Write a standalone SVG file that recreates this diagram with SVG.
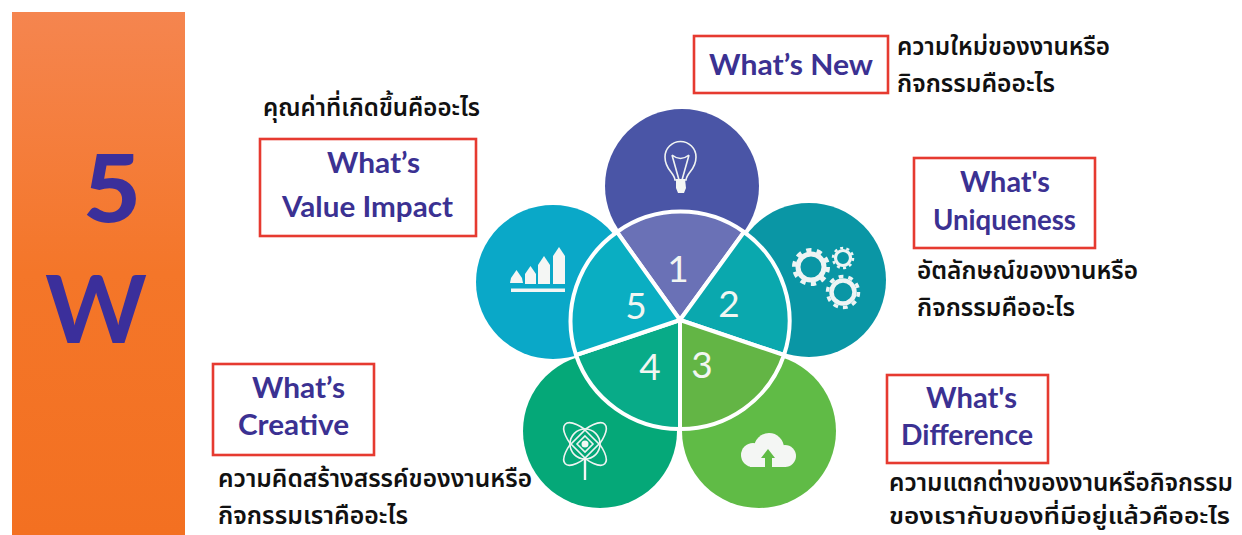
<svg xmlns="http://www.w3.org/2000/svg" width="1242" height="535" viewBox="0 0 1242 535">
<style>
.box{fill:#fff;stroke:#e63a30;stroke-width:2.6}
.en{font-family:"Lato","Liberation Sans",sans-serif;font-weight:700;fill:#3b3192;font-size:28.500px}
.th{font-family:"Noto Sans Thai","Noto Sans","DejaVu Sans",sans-serif;font-weight:600;fill:#111;font-size:25px}
.big{font-family:"Lato","Liberation Sans",sans-serif;font-weight:900;fill:#3b2f9b;font-size:93px}
.w{font-weight:700}
.num{font-family:"Lato","Liberation Sans",sans-serif;font-weight:400;fill:#f2f6f2;font-size:37px;text-anchor:middle}
.sec{stroke:#fff;stroke-width:4;stroke-linejoin:round}
.ico{fill:none;stroke:#f0f4f2;stroke-width:1.6}
.sol{fill:#f4f6f4}
</style>
<defs>
<linearGradient id="og" x1="0" y1="0" x2="0" y2="1"><stop offset="0" stop-color="#f5854f"/><stop offset=".5" stop-color="#f47629"/><stop offset="1" stop-color="#f37021"/></linearGradient>
</defs>
<rect width="1242" height="535" fill="#fff"/>
<g id="title">
<rect x="12" y="12" width="173" height="523" fill="url(#og)"/>
<text class="big" x="83" y="222" textLength="58" lengthAdjust="spacingAndGlyphs">5</text>
<text class="big w" x="45" y="343" textLength="102" lengthAdjust="spacingAndGlyphs">W</text>
</g>
<g id="petal-1">
<circle cx="682" cy="186" r="77" fill="#4a55a6"/>
<path class="sec" d="M680 320L617 232A109 109 0 0 1 744 232Z" fill="#6a71b6"/>
<text class="num" x="678" y="282">1</text>
<g class="ico"><path d="M675 180C674 172 665 170 665 157A15.500 15.500 0 0 1 696 157C696 170 687 172 686 180Z"/><path d="M672 155L679 180M689 155L682 180M672 155Q680.500 162 689 155"/></g>
<path class="sol" d="M676 179H685L686 188L684 193H678L676 188Z"/>
</g>
<g id="petal-2">
<circle cx="809" cy="280" r="77" fill="#0a96a5"/>
<path class="sec" d="M680 320L744 232A109 109 0 0 1 784 355Z" fill="#0aa8ae"/>
<text class="num" x="729" y="317">2</text>
<g fill="none" stroke="#eef4f4"><circle cx="811" cy="267" r="13" stroke-width="5"/><circle cx="811" cy="267" r="17" stroke-width="4" stroke-dasharray="5.300 5.380"/><circle cx="843" cy="258" r="7.500" stroke-width="3.200"/><circle cx="843" cy="258" r="10" stroke-width="2.500" stroke-dasharray="3 3.280"/><circle cx="843" cy="292" r="11.500" stroke-width="4.500"/><circle cx="843" cy="292" r="15.500" stroke-width="3.500" stroke-dasharray="4.800 4.940"/></g>
</g>
<g id="petal-3">
<circle cx="759" cy="431" r="77" fill="#60bb46"/>
<path class="sec" d="M680 320L784 355A109 109 0 0 1 680 429Z" fill="#63b545"/>
<text class="num" x="702" y="378">3</text>
<g class="sol"><circle cx="753" cy="455" r="12"/><circle cx="769" cy="448" r="15"/><circle cx="785" cy="456" r="11"/><rect x="750" y="452" width="36" height="15"/></g>
<path d="M765 468V458H761L768 449L775 458H772V468Z" fill="#60bb46"/>
</g>
<g id="petal-4">
<circle cx="600" cy="431" r="77" fill="#05a878"/>
<path class="sec" d="M680 320L680 429A109 109 0 0 1 576 355Z" fill="#08ab88"/>
<text class="num" x="650" y="380">4</text>
<g class="ico"><ellipse cx="585" cy="444" rx="28" ry="11" transform="rotate(45 585 444)"/><ellipse cx="585" cy="444" rx="28" ry="11" transform="rotate(-45 585 444)"/><circle cx="585" cy="444" r="15" fill="#05a878"/><path d="M585 430L599 444L585 458L571 444Z"/><path d="M585 436L593 444L585 452L577 444Z"/></g>
<circle class="sol" cx="585" cy="444" r="3.500"/>
<rect class="sol" x="583.800" y="458" width="2.400" height="22"/>
</g>
<g id="petal-5">
<circle cx="553" cy="282" r="77" fill="#0aa8c8"/>
<path class="sec" d="M680 320L576 355A109 109 0 0 1 617 232Z" fill="#0aaec2"/>
<text class="num" x="636" y="319">5</text>
<g class="sol"><path d="M510 283L511 278L516.500 270L522 278L523 283Z"/><path d="M525 284V274L530.500 266L536 274V284Z"/><path d="M538 284V265L544 256L550 265V284Z"/><path d="M553 284V256L559 247L565 256V284Z"/><rect x="511" y="288.500" width="54" height="3.500"/></g>
</g>
<g id="whats-new">
<rect class="box" x="694" y="36" width="194" height="57"/>
<text class="en" x="709" y="75" textLength="164" lengthAdjust="spacingAndGlyphs">What’s New</text>
<text class="th" x="897" y="55" textLength="213" lengthAdjust="spacingAndGlyphs">ความใหม่ของงานหรือ</text>
<text class="th" x="897" y="92" textLength="158" lengthAdjust="spacingAndGlyphs">กิจกรรมคืออะไร</text>
</g>
<g id="whats-value-impact">
<text class="th" x="263" y="116" textLength="217" lengthAdjust="spacingAndGlyphs">คุณค่าที่เกิดขึ้นคืออะไร</text>
<rect class="box" x="260" y="139" width="216" height="97"/>
<text class="en" x="327" y="173" textLength="93" lengthAdjust="spacingAndGlyphs">What’s</text>
<text class="en" x="282" y="217" textLength="171" lengthAdjust="spacingAndGlyphs">Value Impact</text>
</g>
<g id="whats-uniqueness">
<rect class="box" x="914" y="158" width="181" height="90"/>
<text class="en" x="960" y="192" textLength="90" lengthAdjust="spacingAndGlyphs">What's</text>
<text class="en" x="933" y="230" textLength="143" lengthAdjust="spacingAndGlyphs">Uniqueness</text>
<text class="th" x="917" y="279" textLength="221" lengthAdjust="spacingAndGlyphs">อัตลักษณ์ของงานหรือ</text>
<text class="th" x="917" y="316" textLength="158" lengthAdjust="spacingAndGlyphs">กิจกรรมคืออะไร</text>
</g>
<g id="whats-creative">
<rect class="box" x="213" y="364" width="161" height="91"/>
<text class="en" x="252" y="398" textLength="93" lengthAdjust="spacingAndGlyphs">What’s</text>
<text class="en" x="238" y="435" textLength="111" lengthAdjust="spacingAndGlyphs">Creative</text>
<text class="th" x="218" y="487" textLength="314" lengthAdjust="spacingAndGlyphs">ความคิดสร้างสรรค์ของงานหรือ</text>
<text class="th" x="218" y="524" textLength="190" lengthAdjust="spacingAndGlyphs">กิจกรรมเราคืออะไร</text>
</g>
<g id="whats-difference">
<rect class="box" x="887" y="375" width="161" height="88"/>
<text class="en" x="926" y="408" textLength="91" lengthAdjust="spacingAndGlyphs">What's</text>
<text class="en" x="901" y="445" textLength="132" lengthAdjust="spacingAndGlyphs">Difference</text>
<text class="th" x="889" y="491" textLength="344" lengthAdjust="spacingAndGlyphs">ความแตกต่างของงานหรือกิจกรรม</text>
<text class="th" x="889" y="524" textLength="341" lengthAdjust="spacingAndGlyphs" style="font-size:23.500px">ของเรากับของที่มีอยู่แล้วคืออะไร</text>
</g>
</svg>
